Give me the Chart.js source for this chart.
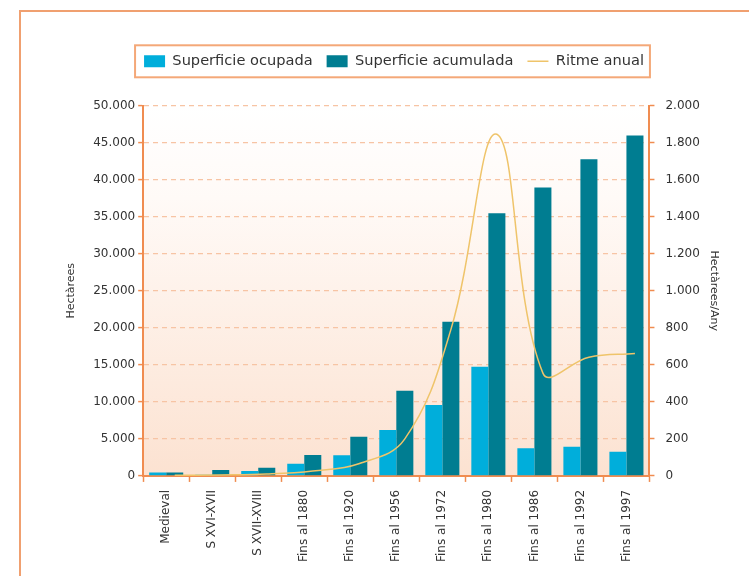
<!DOCTYPE html>
<html>
<head>
<meta charset="utf-8">
<script src="https://cdn.jsdelivr.net/npm/chart.js@4/dist/chart.umd.min.js"></script>
<style>
  html, body { margin: 0; padding: 0; background: #fff; overflow: hidden; }
  #frame {
    position: absolute; left: 19px; top: 10px; width: 800px; height: 640px;
    border-left: 2px solid #f0a070; border-top: 2px solid #f0a070;
  }
  #wrap { position: absolute; left: 0; top: 0; width: 749px; height: 576px; }
</style>
</head>
<body>
<div id="frame"></div>
<div id="wrap"><canvas id="chart"></canvas></div>
<script>
// --- data ---
const categories = ['Medieval', 'S XVI-XVII', 'S XVII-XVIII', 'Fins al 1880', 'Fins al 1920',
  'Fins al 1956', 'Fins al 1972', 'Fins al 1980', 'Fins al 1986', 'Fins al 1992', 'Fins al 1997'];
const superficieOcupada = [450, 150, 670, 1660, 2800, 6200, 9570, 14730, 3730, 3950, 3270];
const superficieAcumulada = [450, 800, 1120, 2830, 5300, 11500, 20800, 35450, 38950, 42760, 45960];
const ritmeAnual = [3, 5, 10, 27, 66, 200, 790, 1845, 555, 641, 661];
const leftTicks = { min: 0, max: 50000, step: 5000 };
const rightTicks = { min: 0, max: 2000, step: 200 };

const ORANGE = '#f08c50';
const GRID = '#f7c4a4';

const dotThousands = v => String(v).replace(/\B(?=(\d{3})+(?!\d))/g, '.');

Chart.defaults.font.family = "'DejaVu Sans', sans-serif";
Chart.defaults.color = '#333';

const framePlugin = {
  id: 'frameBits',
  beforeUpdate(chart) {
    // extra room under the legend
    const lg = chart.legend;
    if (lg && !lg._patched) {
      const fit = lg.fit;
      lg.fit = function () { fit.call(this); this.height += 27; };
      lg._patched = true;
    }
  },
  beforeDraw(chart) {
    const { ctx, chartArea: a } = chart;
    const g = ctx.createLinearGradient(0, a.top, 0, a.bottom);
    g.addColorStop(0, '#ffffff');
    g.addColorStop(0.25, '#fffaf7');
    g.addColorStop(1, '#fce2d1');
    ctx.save();
    ctx.fillStyle = g;
    ctx.fillRect(a.left, a.top, a.right - a.left, a.bottom - a.top);
    ctx.restore();
  },
  // the yellow line sits on the centre of the second bar of each pair
  beforeDatasetDraw(chart, args) {
    if (args.index !== 2) return;
    const bar = chart.getDatasetMeta(1).data[0];
    chart.ctx.save();
    chart.ctx.translate(bar ? bar.width / 2 : 0, 0);
  },
  afterDatasetDraw(chart, args) {
    if (args.index === 2) chart.ctx.restore();
  },
  afterDraw(chart) {
    const boxes = chart.legend.legendHitBoxes;
    if (!boxes || !boxes.length) return;
    const l = Math.min(...boxes.map(b => b.left)) - 9;
    const r = Math.max(...boxes.map(b => b.left + b.width)) + 6;
    const cy = boxes[0].top + boxes[0].height / 2;
    const ctx = chart.ctx;
    ctx.save();
    ctx.strokeStyle = '#f4a878';
    ctx.lineWidth = 2;
    ctx.strokeRect(l, cy - 16, r - l, 32);
    ctx.restore();
  }
};

new Chart(document.getElementById('chart'), {
  type: 'bar',
  data: {
    labels: categories,
    datasets: [
      {
        label: 'Superficie ocupada',
        data: superficieOcupada,
        backgroundColor: '#00aedb',
        pointStyle: 'rect',
        order: 1,
        yAxisID: 'y'
      },
      {
        label: 'Superficie acumulada',
        data: superficieAcumulada,
        backgroundColor: '#007d91',
        pointStyle: 'rect',
        order: 1,
        yAxisID: 'y'
      },
      {
        type: 'line',
        label: 'Ritme anual',
        data: ritmeAnual,
        borderColor: '#efc46a',
        backgroundColor: '#efc46a',
        borderWidth: 1.5,
        pointRadius: 0,
        pointStyle: 'line',
        tension: 0.4,
        order: 0,
        yAxisID: 'y1'
      }
    ]
  },
  options: {
    responsive: true,
    maintainAspectRatio: false,
    animation: false,
    datasets: { bar: { categoryPercentage: 0.74, barPercentage: 1 } },
    layout: { padding: { left: 50, right: 11, top: 40, bottom: 6 } },
    plugins: {
      legend: {
        position: 'top',
        labels: {
          usePointStyle: true,
          pointStyleWidth: 21,
          boxWidth: 21,
          boxHeight: 12,
          padding: 14,
          color: '#333',
          font: { size: 14.6 },
          sort: (a, b) => a.datasetIndex - b.datasetIndex
        }
      },
      tooltip: { enabled: false }
    },
    scales: {
      x: {
        offset: true,
        grid: { display: true, drawOnChartArea: false, drawTicks: true, tickLength: 6, tickColor: ORANGE, tickWidth: 1.5 },
        border: { color: ORANGE, width: 2 },
        ticks: { minRotation: 90, maxRotation: 90, padding: 8, font: { size: 12 }, color: '#333' }
      },
      y: {
        position: 'left',
        min: leftTicks.min,
        max: leftTicks.max,
        title: { display: true, text: 'Hectàrees', font: { size: 11 }, color: '#333', padding: { top: 15, bottom: 12 } },
        grid: { color: GRID, lineWidth: 1.2, tickLength: 5, tickColor: ORANGE, tickWidth: 1.5 },
        border: { color: ORANGE, width: 2, dash: [5, 4] },
        ticks: { stepSize: leftTicks.step, padding: 3, font: { size: 12 }, color: '#333', callback: v => dotThousands(v) }
      },
      y1: {
        position: 'right',
        min: rightTicks.min,
        max: rightTicks.max,
        title: { display: true, text: 'Hectàrees/Any', font: { size: 11 }, color: '#333', padding: { top: 18, bottom: -4 } },
        grid: { drawOnChartArea: false, tickLength: 5, tickColor: ORANGE, tickWidth: 1.5 },
        border: { color: ORANGE, width: 2 },
        ticks: { stepSize: rightTicks.step, padding: 11, font: { size: 12 }, color: '#333', callback: v => dotThousands(v) }
      }
    }
  },
  plugins: [framePlugin]
});
</script>
</body>
</html>
